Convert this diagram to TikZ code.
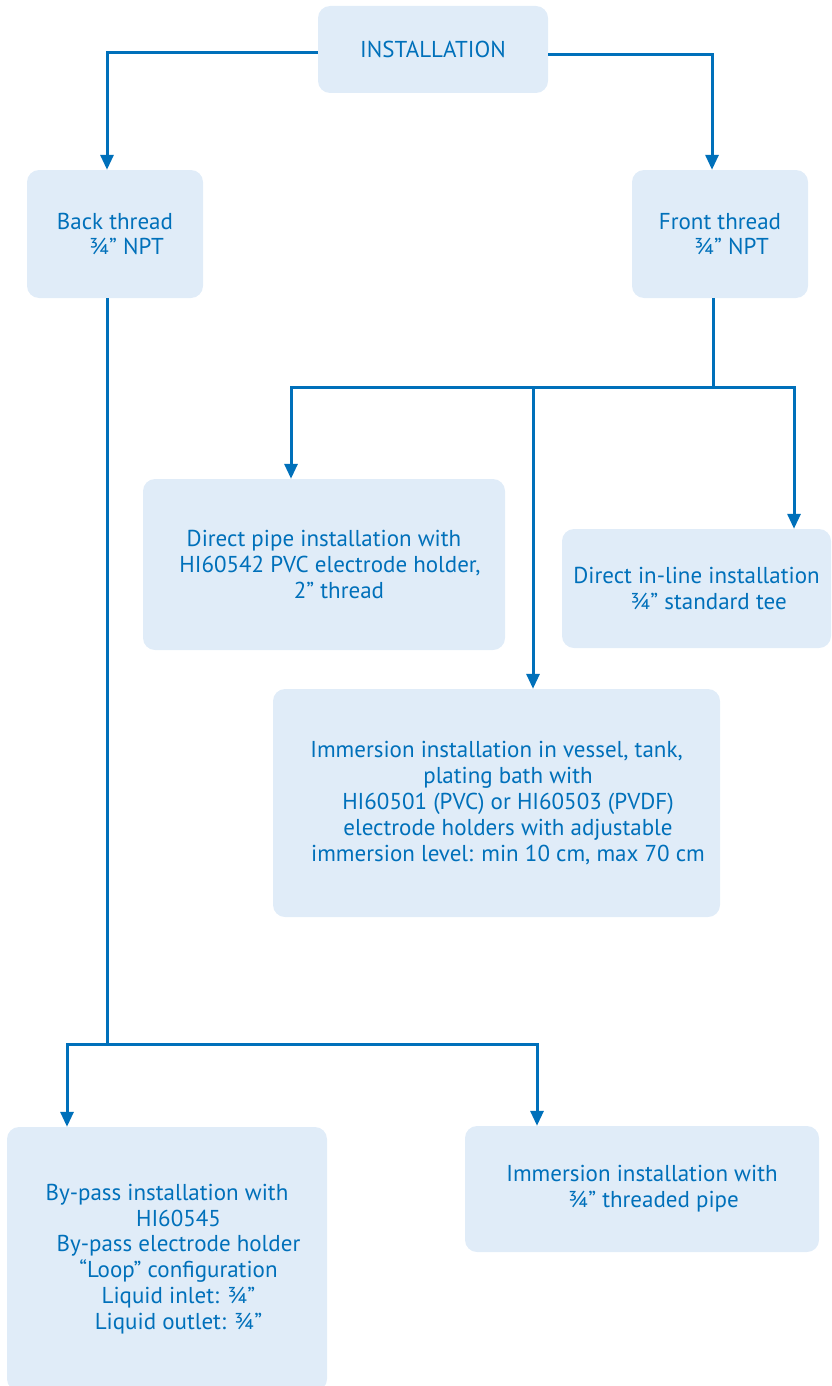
\documentclass[tikz,border=0pt]{standalone}
\usepackage{fontspec}
\setmainfont{PT Sans}
\usetikzlibrary{arrows.meta}
\definecolor{hblue}{RGB}{0,112,186}
\definecolor{hfill}{RGB}{224,236,248}
\newcommand{\ind}[1]{\hspace*{#1pt}}
\begin{document}
\begin{tikzpicture}[x=1pt,y=-1pt,
  box/.style={fill=hfill, rounded corners=12pt, text=hblue, align=center,
    font=\fontsize{23}{25.8}\selectfont, inner sep=0pt},
  conn/.style={draw=hblue, line width=3pt},
  arr/.style={conn, -{Triangle[length=15pt,width=13pt]}}]
\useasboundingbox (0,0) rectangle (832,1386);
\node[box, minimum width=230, minimum height=87] (inst) at (433,49.5) {INSTALLATION};
\node[box, minimum width=176, minimum height=128] (back) at (115,234) {Back thread\\ \ind{23}¾” NPT};
\node[box, minimum width=176, minimum height=128] (front) at (720,234) {Front thread\\ \ind{23}¾” NPT};
\node[box, minimum width=362, minimum height=171] (pipe) at (324,564.5) {Direct pipe installation with\\ \ind{12}HI60542 PVC electrode holder,\\ \ind{30}2” thread};
\node[box, minimum width=269, minimum height=119] (inline) at (696.5,588.5) {Direct in-line installation\\ \ind{24}¾” standard tee};
\node[box, minimum width=447, minimum height=228] (imm) at (496.5,803) {Immersion installation in vessel, tank,\\ \ind{23}plating bath with\\ \ind{23}HI60501 (PVC) or HI60503 (PVDF)\\ \ind{23}electrode holders with adjustable\\ \ind{23}immersion level: min 10 cm, max 70 cm};
\node[box, minimum width=320, minimum height=264] (bypass) at (167,1259) {By-pass installation with\\ \ind{23}HI60545\\ \ind{23}By-pass electrode holder\\ \ind{23}“Loop” configuration\\ \ind{23}Liquid inlet: ¾”\\ \ind{23}Liquid outlet: ¾”};
\node[box, minimum width=354, minimum height=126] (thr) at (642,1189) {Immersion installation with\\ \ind{23}¾” threaded pipe};
\coordinate (fj) at (713,387);
\coordinate (bj) at (107,1044);
\draw[arr] ([yshift=-3.5pt]inst.west) -| ([xshift=-8pt]back.north);
\draw[arr] ([yshift=-5pt]inst.east) -| ([xshift=-8pt]front.north);
\draw[conn] ([xshift=-7pt]front.south) -- (fj);
\draw[arr] (fj) -| ([xshift=-33pt]pipe.north);
\draw[arr] (fj) -| ([xshift=97.5pt]inline.north);
\draw[arr] (fj) -| ([xshift=36.5pt]imm.north);
\draw[conn] ([xshift=-8pt]back.south) -- (bj);
\draw[arr] (bj) -| ([xshift=-100pt]bypass.north);
\draw[arr] (bj) -| ([xshift=-105pt]thr.north);
\end{tikzpicture}
\end{document}
